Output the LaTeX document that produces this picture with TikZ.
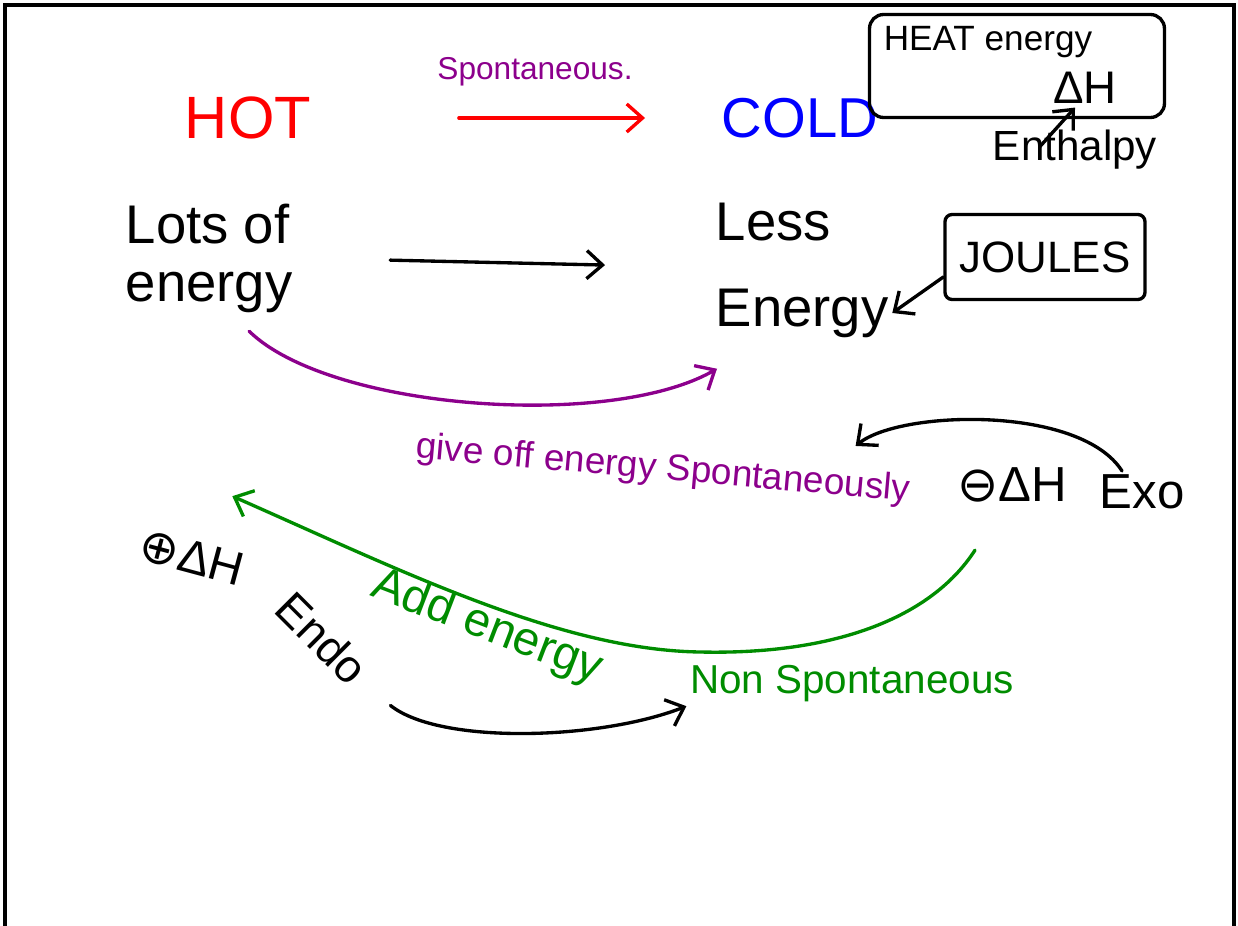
\documentclass[tikz,border=0pt]{standalone}
\usepackage{fontspec}
\setmainfont{Liberation Sans}
\newfontfamily\symbfont{DejaVu Sans}
\usepackage{amssymb}
\usepackage{amsmath}
\usetikzlibrary{arrows.meta,calc}
\definecolor{penred}{RGB}{255,0,0}
\definecolor{penblue}{RGB}{0,0,255}
\definecolor{penpurple}{RGB}{140,0,140}
\definecolor{pengreen}{RGB}{0,140,0}
\tikzset{
    hand/.style={inner sep=2pt},
    handarrow/.style={-{Straight Barb[length=9pt,width=16pt]}, line width=1.9pt, line cap=round},
    handbox/.style={draw, line width=1.9pt, rounded corners=8pt},
}

\begin{document}
\begin{tikzpicture}[x=0.02cm,y=-0.02cm]
  \useasboundingbox (0,0) rectangle (1238,926);
  % board frame
  \draw[line width=2pt] (5,926) -- (5,5) -- (1234,5) -- (1234,926);
  % Row 1: hot -> cold
  \node[hand, penred, font=\fontsize{34}{38}\selectfont] (hot) at (248,118) {HOT};
  \node[hand, penpurple, font=\fontsize{18}{20}\selectfont] (spont) at (535,72) {Spontaneous.};
  \node[hand, penblue, font=\fontsize{32}{36}\selectfont] (cold) at (800,118) {COLD};
  \draw[handarrow, penred, shorten <=2.88cm, shorten >=1.46cm] (hot.east) -- (cold.west);
  % heat energy box
  \node[handbox, minimum width=5.9cm, minimum height=2.06cm] (heatbox) at (1017,66) {};
  \node[hand, font=\fontsize{20}{24}\selectfont] (heat) at (988,42) {HEAT energy};
  \node[hand, font=\fontsize{26}{30}\selectfont] (dh) at (1085,88) {ΔH};
  \node[hand, font=\fontsize{24}{28}\selectfont] (enthalpy) at (1075,150) {Enthalpy};
  \draw[handarrow] ([xshift=-0.7cm,yshift=-0.4cm]enthalpy.north) -- ([xshift=-0.2cm]dh.south);
  % Row 2: lots of energy -> less energy
  \node[hand, anchor=west, align=left, font=\fontsize{31}{33}\selectfont] (lots) at (122,258) {Lots of\\energy};
  \node[hand, anchor=west, font=\fontsize{31}{34}\selectfont] (less) at (712,222) {Less};
  \node[hand, anchor=west, font=\fontsize{31}{34}\selectfont] (energyb) at (712,313) {Energy};
  \draw[handarrow, shorten <=1.88cm, shorten >=2.14cm] (lots.east) -- ($(less.west)!0.5!(energyb.west)$);
  \node[handbox, rounded corners=4pt, minimum width=4cm, minimum height=1.7cm,
    font=\fontsize{25}{28}\selectfont] (joules) at (1045,257) {JOULES};
  \draw[handarrow] ([yshift=-0.4cm]joules.west) -- (energyb.east);
  \draw[handarrow, penpurple] ([xshift=0.8cm,yshift=-0.3cm]lots.south)
    .. controls (330,410) and (610,430) .. ([xshift=0.1cm,yshift=-0.55cm]energyb.south west);
  % Row 3: exo
  \node[hand, penpurple, rotate=-5, font=\fontsize{21}{24}\selectfont] (give) at (663,470) {give off energy Spontaneously};
  \node[hand, font=\fontsize{28}{32}\selectfont] (dhexo) at (1012,485) {{\symbfont ⊖}ΔH};
  \node[hand, font=\fontsize{28}{32}\selectfont] (exo) at (1142,492) {Exo};
  \draw[handarrow] ([xshift=-0.4cm]exo.north) .. controls (1080,405) and (900,410)
    .. ([xshift=-1.2cm,yshift=0.5cm]give.north east);
  % Row 4: endo
  \node[hand, rotate=-15, font=\fontsize{27}{30}\selectfont] (dhendo) at (192,557) {{\symbfont ⊕}ΔH};
  \node[hand, rotate=-45, font=\fontsize{26}{30}\selectfont] (endo) at (322,638) {Endo};
  \node[hand, pengreen, rotate=-21, font=\fontsize{27}{30}\selectfont] (addE) at (487,628) {Add energy};
  \node[hand, pengreen, font=\fontsize{23}{26}\selectfont] (nonsp) at (852,684) {Non Spontaneous};
  \draw[handarrow, pengreen] ([xshift=-0.74cm,yshift=-0.88cm]dhexo.south)
    .. controls (930,620) and (830,655) .. (700,652)
    .. controls (560,650) and (400,570) .. ([xshift=0.7cm,yshift=0.82cm]dhendo.north);
  \draw[handarrow] ([xshift=0.56cm,yshift=-0.54cm]endo.east)
    .. controls (440,745) and (600,740) .. (nonsp.south west);
\end{tikzpicture}
\end{document}
